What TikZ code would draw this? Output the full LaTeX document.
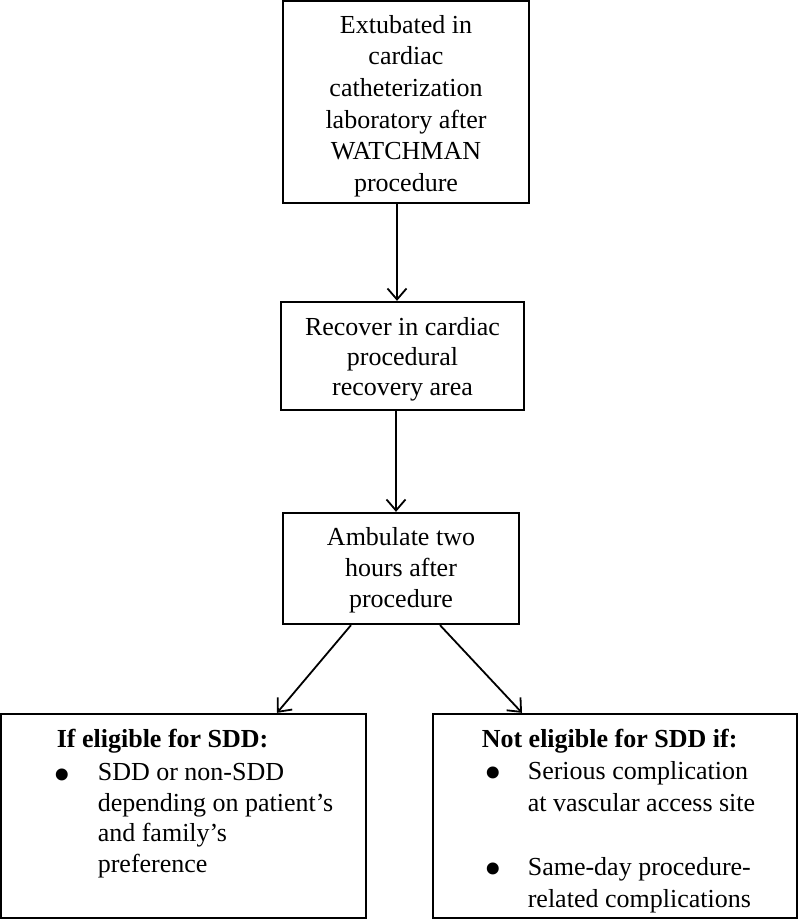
\documentclass[tikz,border=0pt]{standalone}
\usepackage{fontspec}
\setmainfont{Liberation Serif}
\usetikzlibrary{arrows.meta}
\newcommand\bigdot{\makebox[10pt]{\smash{\raisebox{-10.5pt}{\fontsize{50}{31}\selectfont\textbullet}}}}
\begin{document}
\begin{tikzpicture}[x=1pt,y=-1pt,
  stepbox/.style={draw, line width=2.3pt, inner sep=0pt},
  flow/.style={line width=1.8pt, -{Straight Barb[length=11pt,width=19pt,line width=1.8pt]}}]
\useasboundingbox (0,0) rectangle (800,924);
\node[stepbox, minimum width=246pt, minimum height=202pt, font=\fontsize{26}{31.6}\selectfont] (extub) at (406,102) {\begin{tabular}{@{}c@{}}
\rule{0pt}{30.1pt}Extubated in\\cardiac\\catheterization\\laboratory after\\WATCHMAN\\procedure
\end{tabular}};
\node[stepbox, minimum width=243pt, minimum height=108pt, font=\fontsize{26}{30}\selectfont] (recov) at (402.5,356) {\begin{tabular}{@{}c@{}}
\rule{0pt}{27pt}Recover in cardiac\\procedural\\recovery area
\end{tabular}};
\node[stepbox, minimum width=236pt, minimum height=111pt, font=\fontsize{26}{31}\selectfont] (ambul) at (401,568.5) {\begin{tabular}{@{}c@{}}
\rule{0pt}{25.7pt}Ambulate two\\hours after\\procedure
\end{tabular}};
\node[stepbox, minimum width=365pt, minimum height=204pt, font=\fontsize{26}{30.5}\selectfont] (elig) at (183.5,816) {\begin{tabular}{@{\hskip 23pt}l@{\hskip 31pt}l@{}}
\multicolumn{2}{@{\hskip 23pt}l@{}}{\textbf{If eligible for SDD:}}\\[3pt]
\bigdot & SDD or non-SDD\\
 & depending on patient's\\
 & and family's\\
 & preference\\[25pt]
\end{tabular}};
\node[stepbox, minimum width=364pt, minimum height=204pt, font=\fontsize{26}{32}\selectfont] (noelig) at (615,816) {\begin{tabular}{@{\hskip 13pt}l@{\hskip 30pt}l@{}}
\multicolumn{2}{@{\hskip 7pt}l@{}}{\rule{0pt}{31.6pt}\textbf{Not eligible for SDD if:}}\\
\bigdot & Serious complication\\
 & at vascular access site\\
 & \\
\bigdot & Same-day procedure-\\
 & related complications
\end{tabular}};
\draw[flow] ([xshift=-9pt]extub.south) -- ([xshift=-5.5pt]recov.north);
\draw[flow] ([xshift=-6.5pt]recov.south) -- ([xshift=-5pt]ambul.north);
\draw[flow] ([xshift=-50pt]ambul.south) -- ([xshift=93.5pt]elig.north);
\draw[flow] ([xshift=39pt]ambul.south) -- ([xshift=-93pt]noelig.north);
\end{tikzpicture}
\end{document}
